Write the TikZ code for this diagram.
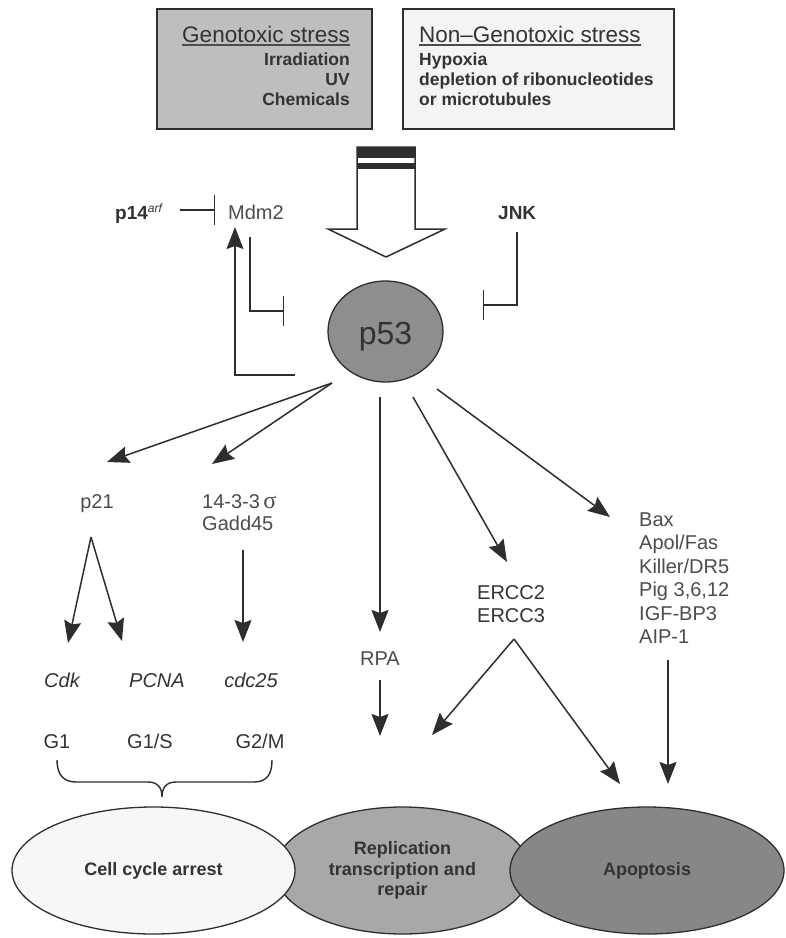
\documentclass[tikz,border=0pt]{standalone}
\usepackage{fontspec}
\setmainfont{Liberation Sans}
\newfontfamily\serifgreek{Liberation Serif}
\usetikzlibrary{arrows.meta,shapes.geometric}
\definecolor{txtc}{HTML}{333333}
\definecolor{labc}{HTML}{4C4C4C}
\definecolor{linec}{HTML}{2E2E2E}
\definecolor{genofill}{HTML}{BEBEBE}
\definecolor{nonfill}{HTML}{F4F4F4}
\definecolor{pfill}{HTML}{8E8E8E}
\definecolor{cellfill}{HTML}{F7F7F7}
\definecolor{repfill}{HTML}{A8A8A8}
\definecolor{apofill}{HTML}{878787}
\begin{document}
\begin{tikzpicture}[x=1pt,y=-1pt,
  arr/.style={draw=linec, line width=1.5pt, -{Stealth[length=22pt,width=17pt,inset=3pt]}},
  inh/.style={draw=linec, line width=1.4pt, -{Bar[width=30pt]}},
  lab/.style={font=\fontsize{20}{23.5}\selectfont, text=labc, inner sep=0pt},
  labd/.style={font=\fontsize{20}{23.5}\selectfont, text=txtc, inner sep=0pt},
  ital/.style={font=\itshape\fontsize{20}{23.5}\selectfont, text=txtc, inner sep=0pt},
  boldlab/.style={font=\bfseries\fontsize{19}{22}\selectfont, text=txtc, inner sep=0pt},
  boxt/.style={font=\fontsize{22.5}{26}\selectfont, text=txtc, inner sep=0pt},
  boxb/.style={font=\bfseries\fontsize{17.5}{20}\selectfont, text=txtc, inner sep=0pt},
  stressbox/.style={draw=linec, line width=1.6pt, inner sep=0pt},
  ell/.style={ellipse, draw=linec, line width=1.3pt, inner sep=0pt,
    font=\bfseries\fontsize{18}{20.5}\selectfont, text=txtc, align=center},
]
\useasboundingbox (0,0) rectangle (786,938);
\fill[white] (0,0) rectangle (786,938);

% stress boxes
\node[stressbox, fill=genofill, minimum width=215, minimum height=120] (geno) at (264.5,69) {};
\node[stressbox, fill=nonfill, minimum width=271, minimum height=120] (nongeno) at (538.5,69) {};
\node[boxt, anchor=base east] (gt) at (350,42) {Genotoxic stress};
\draw[labc, line width=1.2pt] ([yshift=-3pt]gt.base west) -- ([yshift=-3pt]gt.base east);
\node[boxb, anchor=base east] (g1) at (350,65.5) {Irradiation};
\node[boxb, anchor=base east] (g2) at (350,85.5) {UV};
\node[boxb, anchor=base east] (g3) at (350,105.5) {Chemicals};
\node[boxt, anchor=base west] (nt) at (419,42) {Non–Genotoxic stress};
\draw[labc, line width=1.2pt] ([yshift=-3pt]nt.base west) -- ([yshift=-3pt]nt.base east);
\node[boxb, anchor=base west] (n1) at (419,65.5) {Hypoxia};
\node[boxb, anchor=base west] (n2) at (419,85.5) {depletion of ribonucleotides};
\node[boxb, anchor=base west] (n3) at (419,105.5) {or microtubules};

% big hollow arrow
\draw[draw=linec, line width=1.5pt, fill=white, line join=miter]
  (357,147) -- (357,229) -- (328,229) -- (386,257) -- (445,229) -- (415,229) -- (415,147) -- cycle;
\fill[linec] (357,147) rectangle (415,158);
\fill[linec] (357,162.5) rectangle (415,169);

% p53
\node[ellipse, draw=linec, line width=1.3pt, fill=pfill, minimum width=115, minimum height=101, inner sep=0pt] (p53) at (385.5,331.5) {};
\node[font=\fontsize{32}{32}\selectfont, text=txtc, inner sep=0pt, anchor=base] (p53t) at (385.5,344) {p53};

% regulators
\node[boldlab, anchor=base west] (p14) at (115,219) {p14\textsuperscript{\fontsize{12}{12}\selectfont\mdseries\itshape arf}};
\node[lab, anchor=base west] (mdm2) at (228,219) {Mdm2};
\node[boldlab, anchor=base west] (jnk) at (498,219) {JNK};
\coordinate (p14e) at (180,210);
\coordinate (mdmbar) at (215,210);
\draw[inh] (p14e) -- (mdmbar);
\coordinate (m1) at (250,237);
\coordinate (m2) at (284,311);
\draw[inh] (m1) |- (m2);
\coordinate (j1) at (517,232);
\coordinate (j2) at (483,305);
\draw[inh] (j1) |- (j2);
\coordinate (fb1) at (295,375);
\coordinate (fb2) at (235,227);
\draw[arr] (fb1) -| (fb2);

% targets
\node[lab, anchor=base] (p21) at (97,508) {p21};
\node[lab, anchor=base west] (sig) at (202,508) {14-3-3\,{\serifgreek\fontsize{24}{24}\selectfont σ}};
\node[lab, anchor=base west] (gadd) at (202,530) {Gadd45};
\node[ital, anchor=base] (cdk) at (62,687) {Cdk};
\node[ital, anchor=base] (pcna) at (157,687) {PCNA};
\node[ital, anchor=base] (cdc) at (251,687) {cdc25};
\node[labd, anchor=base] (G1) at (57,748) {G1};
\node[labd, anchor=base] (G1S) at (150,748) {G1/S};
\node[labd, anchor=base] (G2M) at (260,748) {G2/M};
\node[lab, anchor=base] (rpa) at (380,665) {RPA};
\node[labd, anchor=base west] (ercc2) at (477,599) {ERCC2};
\node[labd, anchor=base west] (ercc3) at (477,622) {ERCC3};
\node[lab, anchor=base west] (bax) at (639,526) {Bax};
\node[lab, anchor=base west] (apo1) at (639,549.5) {Apol/Fas};
\node[lab, anchor=base west] (killer) at (639,573) {Killer/DR5};
\node[lab, anchor=base west] (pig) at (639,596.5) {Pig 3,6,12};
\node[lab, anchor=base west] (igf) at (639,620) {IGF-BP3};
\node[lab, anchor=base west] (aip) at (639,643.5) {AIP-1};

% arrows from p53
\coordinate (s1) at (332,383);
\coordinate (t1) at (107,462);
\coordinate (t2) at (212,464);
\draw[arr] (s1) -- (t1);
\draw[arr] (s1) -- (t2);
\coordinate (s3) at (380,397);
\coordinate (t3) at (380,632);
\draw[arr] (s3) -- (t3);
\coordinate (s4) at (413,397);
\coordinate (t4) at (507,562);
\draw[arr] (s4) -- (t4);
\coordinate (s5) at (437,389);
\coordinate (t5) at (610,517);
\draw[arr] (s5) -- (t5);

% second level
\coordinate (pa) at (91,537);
\coordinate (pc) at (68,643);
\coordinate (pp) at (122,641);
\draw[arr] (pa) -- (pc);
\draw[arr] (pa) -- (pp);
\coordinate (ga) at (243,550);
\coordinate (gc) at (243,642);
\draw[arr] (ga) -- (gc);
\coordinate (ra) at (380,680);
\coordinate (rb) at (380,736);
\draw[arr] (ra) -- (rb);
\coordinate (ea) at (514,639);
\coordinate (eb) at (432,735);
\coordinate (ec) at (620,784);
\draw[arr] (ea) -- (eb);
\draw[arr] (ea) -- (ec);
\coordinate (aa) at (668,660);
\coordinate (ab) at (668,784);
\draw[arr] (aa) -- (ab);

% brace
\draw[linec, line width=1.4pt]
  (57,760) .. controls (57,774) and (63,782) .. (76,782) -- (148,782)
  .. controls (158,782) and (162,788) .. (162,797)
  .. controls (162,788) and (166,782) .. (176,782) -- (254,782)
  .. controls (267,782) and (272,774) .. (272,760);

% outcome ellipses
\node[ell, fill=repfill, minimum width=255, minimum height=127] (rep) at (402.5,870.5) {Replication\\transcription and\\repair};
\node[ell, fill=cellfill, minimum width=283, minimum height=127] (cell) at (153.5,870.5) {Cell cycle arrest};
\node[ell, fill=apofill, minimum width=274, minimum height=127] (apo) at (647,870.5) {Apoptosis};
\end{tikzpicture}
\end{document}
